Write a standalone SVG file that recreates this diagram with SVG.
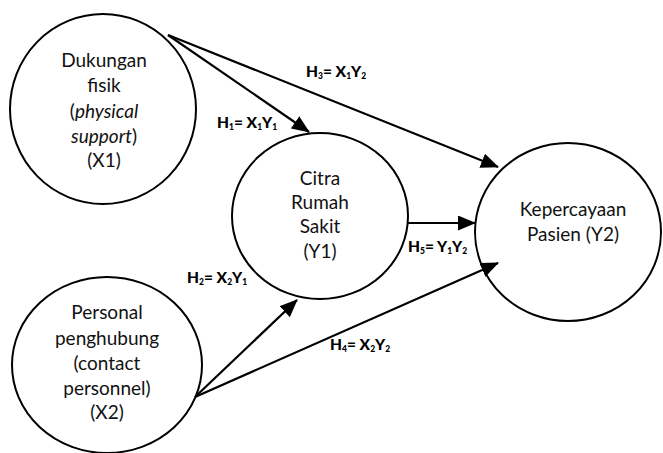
<svg xmlns="http://www.w3.org/2000/svg" width="663" height="453" viewBox="0 0 663 453">
<style>
.node{fill:#fff;stroke:#000;stroke-width:2}
.t{font-family:Lato,"Open Sans","DejaVu Sans",sans-serif;font-size:19px;fill:#111;text-anchor:middle}
.lbl{font-family:Lato,"Open Sans","DejaVu Sans",sans-serif;font-size:15.5px;font-weight:900;fill:#000}
.s{font-size:8.5px}
.c{stroke:#000;stroke-width:2.2;fill:none;marker-end:url(#ah)}
</style>
<defs>
<marker id="ah" markerUnits="userSpaceOnUse" markerWidth="19" markerHeight="15" refX="17" refY="7.5" orient="auto">
<path d="M0,0 L18,7.5 L0,15 Z" fill="#000"/>
</marker>
</defs>
<g id="X1">
<ellipse class="node" cx="103" cy="109" rx="93" ry="95"/>
<text class="t" x="104" y="67">Dukungan</text>
<text class="t" x="104" y="92">fisik</text>
<text class="t" x="104" y="118">(<tspan font-style="italic">physical</tspan></text>
<text class="t" x="104" y="143"><tspan font-style="italic">support</tspan>)</text>
<text class="t" x="104" y="167">(X1)</text>
</g>
<g id="X2">
<ellipse class="node" cx="107" cy="365" rx="95" ry="88"/>
<text class="t" x="107" y="319">Personal</text>
<text class="t" x="107" y="345">penghubung</text>
<text class="t" x="107" y="370">(contact</text>
<text class="t" x="107" y="395">personnel)</text>
<text class="t" x="107" y="419">(X2)</text>
</g>
<g id="Y1">
<ellipse class="node" cx="320" cy="216" rx="88" ry="83"/>
<text class="t" x="320" y="185">Citra</text>
<text class="t" x="320" y="209">Rumah</text>
<text class="t" x="320" y="233">Sakit</text>
<text class="t" x="320" y="258">(Y1)</text>
</g>
<g id="Y2">
<ellipse class="node" cx="568" cy="232" rx="93" ry="89"/>
<text class="t" x="573" y="216">Kepercayaan</text>
<text class="t" x="573" y="241">Pasien (Y2)</text>
</g>
<g id="connectors">
<line class="c" x1="168" y1="35" x2="309" y2="132"/>
<line class="c" x1="168" y1="35" x2="498" y2="167"/>
<line class="c" x1="408" y1="223" x2="475" y2="223"/>
<line class="c" x1="195" y1="397" x2="297" y2="300"/>
<line class="c" x1="195" y1="397" x2="498" y2="263"/>
</g>
<g id="labels">
<text class="lbl" x="217" y="128">H<tspan class="s" dy="2">1</tspan><tspan dy="-2">= X</tspan><tspan class="s" dy="2">1</tspan><tspan dy="-2">Y</tspan><tspan class="s" dy="2">1</tspan></text>
<text class="lbl" x="306" y="77">H<tspan class="s" dy="2">3</tspan><tspan dy="-2">= X</tspan><tspan class="s" dy="2">1</tspan><tspan dy="-2">Y</tspan><tspan class="s" dy="2">2</tspan></text>
<text class="lbl" x="187" y="283">H<tspan class="s" dy="2">2</tspan><tspan dy="-2">= X</tspan><tspan class="s" dy="2">2</tspan><tspan dy="-2">Y</tspan><tspan class="s" dy="2">1</tspan></text>
<text class="lbl" x="408" y="252">H<tspan class="s" dy="2">5</tspan><tspan dy="-2">= Y</tspan><tspan class="s" dy="2">1</tspan><tspan dy="-2">Y</tspan><tspan class="s" dy="2">2</tspan></text>
<text class="lbl" x="330" y="350">H<tspan class="s" dy="2">4</tspan><tspan dy="-2">= X</tspan><tspan class="s" dy="2">2</tspan><tspan dy="-2">Y</tspan><tspan class="s" dy="2">2</tspan></text>
</g>
</svg>
